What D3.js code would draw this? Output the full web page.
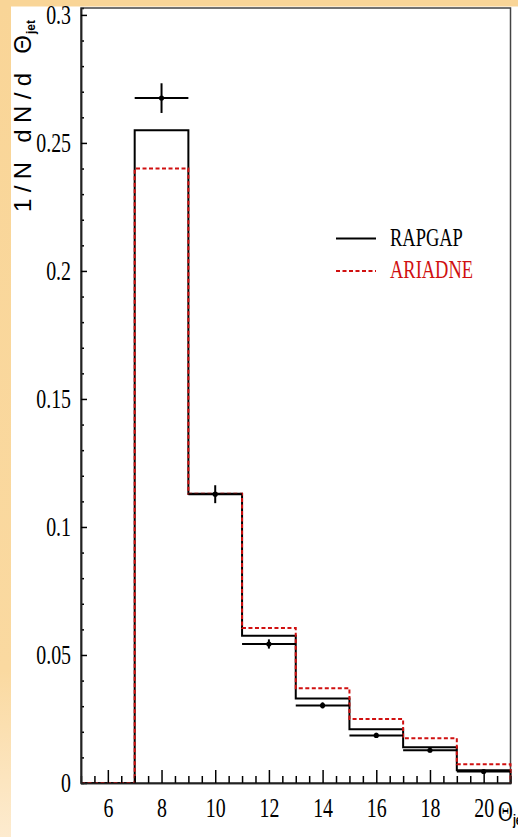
<!DOCTYPE html>
<html>
<head>
<meta charset="utf-8">
<script src="https://cdn.jsdelivr.net/npm/d3@7"></script>
<style>
  html, body { margin: 0; padding: 0; background: #fff; }
  svg { display: block; }
</style>
</head>
<body>
<svg id="main-svg"></svg>
<script>
// bins of theta_jet, width 2
var binEdges = [7, 9, 11, 13, 15, 17, 19, 21];
var binCenters = [8, 10, 12, 14, 16, 18, 20];
var rapgap = [0.255, 0.113, 0.0575, 0.033, 0.021, 0.014, 0.005];
var ariadne = [0.240, 0.113, 0.0605, 0.037, 0.025, 0.0175, 0.0073];
var dataVals = [0.2675, 0.1128, 0.0543, 0.0303, 0.0186, 0.0128, 0.0045];
var dataErr = [0.0058, 0.0035, 0.0018, 0.0012, 0.001, 0.0008, 0.0006];
var xMajor = [6, 8, 10, 12, 14, 16, 18, 20];
var yMajor = [0, 0.05, 0.1, 0.15, 0.2, 0.25, 0.3];
var yLabels = ["0", "0.05", "0.1", "0.15", "0.2", "0.25", "0.3"];
var legendNames = ["RAPGAP", "ARIADNE"];

var width = 518, height = 837,
  plotLeft = 81, plotRight = 510.5, plotTop = 8, plotBottom = 783,
  squeeze = 0.71,
  serif = "'Liberation Serif', 'Times New Roman', serif",
  sans = "'Liberation Sans', Arial, sans-serif",
  red = "#d01010";

var svg = d3.select("#main-svg").attr("width", width).attr("height", height);

// slide background
var defs = svg.append("defs");
var grad = defs.append("linearGradient").attr("id", "band").attr("x1", 0).attr("y1", 0).attr("x2", 0).attr("y2", 1);
grad.append("stop").attr("offset", "0").attr("stop-color", "#f9d597");
grad.append("stop").attr("offset", "0.8").attr("stop-color", "#fad9a0");
grad.append("stop").attr("offset", "1").attr("stop-color", "#fdebcf");
svg.append("rect").attr("width", width).attr("height", height).attr("fill", "#fff");
svg.append("rect").attr("x", 0).attr("y", 0).attr("width", 11).attr("height", height).attr("fill", "url(#band)");
svg.append("rect").attr("x", 0).attr("y", 0).attr("width", width).attr("height", 6.5).attr("fill", "#f9d597");

var x = d3.scaleLinear().domain([5, 21]).range([plotLeft, plotRight]);
var y = d3.scaleLinear().domain([0, 0.3027]).range([plotBottom, plotTop]);

// frame
svg.append("rect").attr("x", plotLeft).attr("y", plotTop).attr("width", plotRight - plotLeft).attr("height", plotBottom - plotTop)
  .attr("fill", "none").attr("stroke", "#444").attr("stroke-width", 1.5);

// histograms
function histPoints(vals) {
  var pts = [[5, 0]];
  vals.forEach(function (v, i) { pts.push([binEdges[i], v]); });
  pts.push([binEdges[binEdges.length - 1], vals[vals.length - 1]]);
  pts.push([binEdges[binEdges.length - 1], 0]);
  return pts;
}
var stepLine = d3.line().x(function (d) { return x(d[0]); }).y(function (d) { return y(d[1]); }).curve(d3.curveStepAfter);

svg.append("path").datum(histPoints(rapgap)).attr("d", stepLine)
  .attr("fill", "none").attr("stroke", "#000").attr("stroke-width", 2);
svg.append("path").datum(histPoints(ariadne)).attr("d", stepLine)
  .attr("fill", "none").attr("stroke", red).attr("stroke-width", 2).attr("stroke-dasharray", "4,2.5");

// data points with error bars
var pts = svg.append("g").selectAll("g").data(binCenters).enter().append("g");
pts.append("line")
  .attr("x1", function (d, i) { return x(binEdges[i]); })
  .attr("x2", function (d, i) { return x(binEdges[i + 1]); })
  .attr("y1", function (d, i) { return y(dataVals[i]); })
  .attr("y2", function (d, i) { return y(dataVals[i]); })
  .attr("stroke", "#000").attr("stroke-width", 2);
pts.append("line")
  .attr("x1", function (d) { return x(d); }).attr("x2", function (d) { return x(d); })
  .attr("y1", function (d, i) { return y(dataVals[i] + dataErr[i]); })
  .attr("y2", function (d, i) { return y(dataVals[i] - dataErr[i]); })
  .attr("stroke", "#000").attr("stroke-width", 2);
pts.append("circle").attr("cx", function (d) { return x(d); })
  .attr("cy", function (d, i) { return y(dataVals[i]); }).attr("r", 2.6).attr("fill", "#000");

// axes
function styleAxis(g) {
  g.select(".domain").attr("stroke", "#222").attr("stroke-width", 1.5);
  g.selectAll(".tick line").attr("stroke", "#000").attr("stroke-width", 1.5);
  g.selectAll("text").attr("font-family", serif).attr("font-size", 28).attr("fill", "#000");
}

var yMinor = d3.range(0, 0.3001, 0.01).filter(function (v) { return Math.abs(v * 20 - Math.round(v * 20)) > 1e-6; });
svg.append("g").attr("transform", "translate(" + plotLeft + ",0)")
  .call(d3.axisLeft(y).tickValues(yMinor).tickSize(-3).tickFormat(""))
  .call(styleAxis);
var gy = svg.append("g").attr("transform", "translate(" + plotLeft + ",0)")
  .call(d3.axisLeft(y).tickValues(yMajor).tickSizeInner(-6).tickSizeOuter(0).tickPadding(10)
    .tickFormat(function (d, i) { return yLabels[i]; }))
  .call(styleAxis);
gy.selectAll(".tick text").attr("x", -10 / squeeze).attr("transform", "scale(" + squeeze + ",1)");

var xMinor = d3.range(5.5, 21, 0.5).filter(function (v) { return v % 2 !== 0; });
svg.append("g").attr("transform", "translate(0," + plotBottom + ")")
  .call(d3.axisBottom(x).tickValues(xMinor).tickSize(-7).tickFormat(""))
  .call(styleAxis);
var gx = svg.append("g").attr("transform", "translate(0," + plotBottom + ")")
  .call(d3.axisBottom(x).tickValues(xMajor).tickSizeInner(-13).tickSizeOuter(0).tickPadding(14)
    .tickFormat(d3.format("d")))
  .call(styleAxis);
gx.selectAll(".tick text").attr("transform", "scale(" + squeeze + ",1)");

// x title
var xt = svg.append("g").attr("transform", "translate(498,821) scale(" + squeeze + ",1)");
xt.append("text").attr("font-family", serif).attr("font-size", 29).text("\u0398");
xt.append("text").attr("x", 21).attr("y", 4).attr("font-family", sans)
  .attr("font-weight", "bold").attr("font-size", 15).text("jet");

// y title
var yt = svg.append("g").attr("transform", "translate(31,212) rotate(-90)");
yt.append("text").attr("font-family", sans).attr("font-size", 24)
  .attr("textLength", 177).attr("lengthAdjust", "spacing").text("1/N dN/d \u0398");
yt.append("text").attr("x", 178).attr("y", 4).attr("font-family", sans)
  .attr("font-weight", "bold").attr("font-size", 12).text("jet");

// legend
var legend = svg.append("g").selectAll("g").data(legendNames).enter().append("g")
  .attr("transform", function (d, i) { return "translate(336," + (238.5 + i * 32.5) + ")"; });
legend.append("line").attr("x1", 0).attr("x2", 40).attr("y1", 0).attr("y2", 0)
  .attr("stroke", function (d, i) { return i ? red : "#000"; }).attr("stroke-width", 2)
  .attr("stroke-dasharray", function (d, i) { return i ? "4,2.5" : null; });
legend.append("text").attr("transform", "translate(54,7) scale(" + squeeze + ",1)")
  .attr("font-family", serif).attr("font-size", 26)
  .attr("fill", function (d, i) { return i ? red : "#000"; }).text(function (d) { return d; });
</script>
</body>
</html>
